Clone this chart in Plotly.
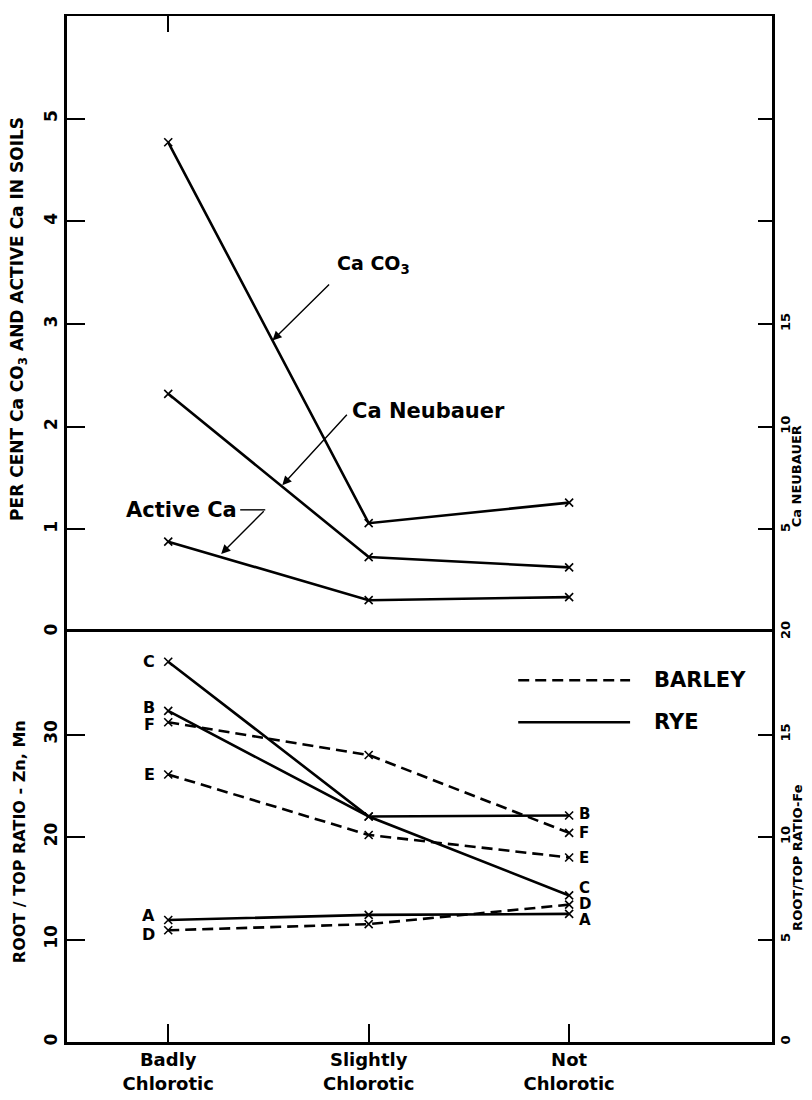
import plotly.graph_objects as go

# ---------------- data ----------------
categories = [0, 1, 2]
category_labels = ["Badly<br>Chlorotic", "Slightly<br>Chlorotic", "Not<br>Chlorotic"]

# top panel (per cent, left axis)
caco3 = [4.77, 1.06, 1.26]
active_ca = [0.88, 0.31, 0.34]
# Ca Neubauer (right axis units)
ca_neubauer = [11.6, 3.65, 3.15]

# bottom panel root/top ratio (left axis units)
rye_A = [11.9, 12.4, 12.5]
rye_B = [32.3, 22.0, 22.1]
rye_C = [37.1, 22.0, 14.3]
barley_D = [10.9, 11.5, 13.4]
barley_E = [26.1, 20.2, 18.0]
barley_F = [31.2, 28.0, 20.4]

top_left_ticks = [0, 1, 2, 3, 4, 5]
top_right_ticks = [5, 10, 15]
top_right_minor = [20, 25]
bot_left_ticks = [0, 10, 20, 30]
bot_right_ticks = [0, 5, 10, 15, 20]

FONT = "DejaVu Sans"
BLK = "black"

fig = go.Figure()

mk = dict(symbol="x-thin", size=8, line=dict(width=1.6, color=BLK), color=BLK)

def add_line(y, xaxis, yaxis, dash="solid"):
    fig.add_trace(go.Scatter(x=categories, y=y, xaxis=xaxis, yaxis=yaxis,
                             mode="lines+markers", marker=mk,
                             line=dict(color=BLK, width=2.6, dash=dash),
                             showlegend=False, hoverinfo="skip"))

# top panel
add_line(caco3, "x2", "y3")
add_line(active_ca, "x2", "y3")
add_line(ca_neubauer, "x2", "y4")

# bottom panel
DASH = "11px,6px"
for s in (barley_D, barley_E, barley_F):
    add_line(s, "x", "y", dash=DASH)
for s in (rye_A, rye_B, rye_C):
    add_line(s, "x", "y")

XR = [-0.505, 3.012]
split = 0.3996
tickfont_l = dict(family=FONT, size=17, color=BLK, weight="bold")
tickfont_r = dict(family=FONT, size=13, color=BLK, weight="bold")

common = dict(showgrid=False, zeroline=False, automargin=False, tickcolor=BLK,
              linecolor=BLK, showline=True, tickwidth=1.5)

# page body has an 8px margin, so the figure is 8px smaller than the window
fig.update_layout(
    width=804, height=1092,
    margin=dict(l=59, r=40, t=8, b=58, autoexpand=False),
    paper_bgcolor="white", plot_bgcolor="white",
    showlegend=False,
    xaxis=dict(domain=[0, 1], range=XR, anchor="y", tickvals=categories,
               ticktext=category_labels, ticks="inside", ticklen=18,
               linewidth=2.5, mirror=True,
               tickfont=dict(family=FONT, size=18, color=BLK, weight="bold"), **common),
    xaxis2=dict(domain=[0, 1], range=XR, anchor="y3", side="top", tickvals=[0],
                showticklabels=False, ticks="inside", ticklen=16, linewidth=2.2, **common),
    yaxis=dict(domain=[0, split], range=[0, 40], anchor="x", tickvals=bot_left_ticks,
               ticks="inside", ticklen=18, linewidth=2.5, tickangle=-90,
               tickfont=tickfont_l, **common),
    yaxis2=dict(domain=[0, split], range=[0, 20], anchor="x", overlaying="y",
                side="right", tickvals=bot_right_ticks, ticks="inside", ticklen=14,
                linewidth=2.5, tickangle=-90, tickfont=tickfont_r, **common),
    yaxis3=dict(domain=[split, 1], range=[0, 6], anchor="x2", tickvals=top_left_ticks,
                ticks="inside", ticklen=18, linewidth=2.5, tickangle=-90,
                tickfont=tickfont_l, **common),
    yaxis4=dict(domain=[split, 1], range=[0, 30], anchor="x2", overlaying="y3",
                side="right", tickvals=top_right_ticks,
                minor=dict(tickvals=top_right_minor, ticks="inside", ticklen=14,
                           tickwidth=1.5, tickcolor=BLK, showgrid=False),
                ticks="inside", ticklen=14, linewidth=2.5, tickangle=-90,
                tickfont=tickfont_r, **common),
)

ann = []
def text(x, y, t, xref, yref, size=17, xanchor="center", yanchor="middle", angle=0,
         weight="bold"):
    ann.append(dict(x=x, y=y, xref=xref, yref=yref, text=t, showarrow=False,
                    xanchor=xanchor, yanchor=yanchor, textangle=angle,
                    font=dict(family=FONT, size=size, color=BLK, weight=weight)))

def arrow(x, y, ax, ay, xref, yref):
    ann.append(dict(x=x, y=y, ax=ax, ay=ay, xref=xref, yref=yref, axref=xref,
                    ayref=yref, text="", showarrow=True, arrowhead=2, arrowsize=1.3,
                    arrowwidth=1.4, arrowcolor=BLK))

# top panel labels
text(0.83, 3.58, "Ca CO<sub>3</sub>", "x2", "y3", size=19, xanchor="left")
arrow(0.52, 2.84, 0.81, 3.40, "x2", "y3")
text(0.905, 2.15, "Ca Neubauer", "x2", "y3", size=21, xanchor="left")
arrow(0.569, 1.43, 0.898, 2.13, "x2", "y3")
text(0.355, 1.19, "Active Ca", "x2", "y3", size=21, xanchor="right")
arrow(0.264, 0.76, 0.484, 1.19, "x2", "y3")

# bottom panel point labels
left_lab = [("C", 37.1), ("B", 32.6), ("F", 31.0), ("E", 26.1), ("A", 12.3), ("D", 10.5)]
for t, y in left_lab:
    text(-0.055, y, t, "x", "y", size=16, xanchor="right")
right_lab = [("B", 22.2), ("F", 20.4), ("E", 18.0), ("C", 15.0), ("D", 13.5), ("A", 11.9)]
for t, y in right_lab:
    text(2.04, y, t, "x", "y", size=15, xanchor="left")

# legend
text(2.414, 35.3, "BARLEY", "x", "y", size=21, xanchor="left")
text(2.414, 31.2, "RYE", "x", "y", size=21, xanchor="left")

# axis titles
text(-0.068, 3.05, "PER CENT Ca CO<sub>3</sub> AND ACTIVE Ca IN SOILS", "paper", "y3",
     size=17, angle=-90)
text(-0.068, 19.5, "ROOT / TOP RATIO - Zn, Mn", "paper", "y", size=16, angle=-90)
text(1.036, 7.6, "Ca NEUBAUER", "paper", "y4", size=13, angle=-90)
text(1.036, 9.0, "ROOT/TOP RATIO-Fe", "paper", "y2", size=13, angle=-90)

fig.update_layout(annotations=ann)

shapes = [
    dict(type="line", xref="x2", yref="y3", x0=0.359, x1=0.484, y0=1.19, y1=1.19,
         line=dict(color=BLK, width=1.4)),
    dict(type="line", xref="x", yref="y", x0=1.746, x1=2.304, y0=35.3, y1=35.3,
         line=dict(color=BLK, width=2.6, dash=DASH)),
    dict(type="line", xref="x", yref="y", x0=1.746, x1=2.304, y0=31.2, y1=31.2,
         line=dict(color=BLK, width=2.6)),
]
fig.update_layout(shapes=shapes)

fig.write_html("out.html")
